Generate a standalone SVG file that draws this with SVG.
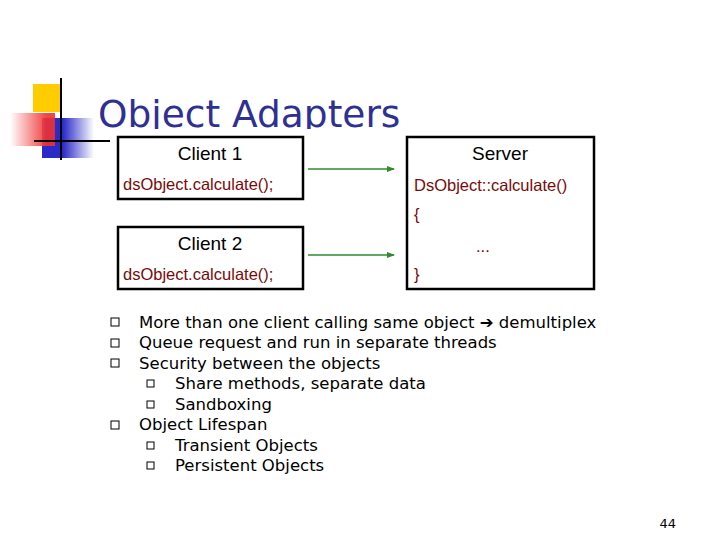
<svg xmlns="http://www.w3.org/2000/svg" width="720" height="540" viewBox="0 0 720 540">
<defs>
<style>
.box{fill:#fff;stroke:#000;stroke-width:2.5}
.hd{font-family:"Liberation Sans",Arial,sans-serif;font-size:19px;fill:#000}
.code{font-family:"Liberation Sans",Arial,sans-serif;font-size:16.5px;fill:#7a0a0a}
.bul{font-family:"DejaVu Sans",Verdana,sans-serif;font-size:16.5px;fill:#000}
.sq{fill:none;stroke:#000;stroke-width:1}
.ar{stroke:#2e8b2e;stroke-width:1.5;fill:none;marker-end:url(#ah)}
</style>
<marker id="ah" markerWidth="8" markerHeight="6" refX="7" refY="3" orient="auto" markerUnits="userSpaceOnUse"><path d="M0,0 L8,3 L0,6 Z" fill="#2e8b2e"/></marker>
<linearGradient id="rg" x1="0" x2="1"><stop offset="0" stop-color="#fff"/><stop offset="0.8" stop-color="#f03030"/></linearGradient>
<linearGradient id="bg" x1="0" x2="1"><stop offset="0.4" stop-color="#2a2ac8"/><stop offset="1" stop-color="#fff"/></linearGradient>
</defs>
<rect width="720" height="540" fill="#fff"/>
<g id="logo">
<rect x="33" y="84" width="28" height="28" fill="#ffcc00"/>
<rect x="42" y="118" width="52" height="40" fill="url(#bg)"/>
<rect x="10" y="113" width="45" height="33" fill="url(#rg)" opacity="0.9"/>
<line x1="61" y1="78" x2="61" y2="160" stroke="#000" stroke-width="2"/>
<line x1="34" y1="141" x2="110" y2="141" stroke="#000" stroke-width="2"/>
</g>
<text x="98" y="127" font-family="'DejaVu Sans',Verdana,sans-serif" font-size="37.5" fill="#2e3192">Object Adapters</text>
<rect x="112" y="129" width="490" height="165" fill="#fff"/>
<g id="connectors">
<line class="ar" x1="308" y1="169" x2="394" y2="169"/>
<line class="ar" x1="308" y1="255" x2="394" y2="255"/>
</g>
<g id="client1">
<rect class="box" x="118" y="137" width="185" height="62"/>
<text class="hd" x="210" y="160" text-anchor="middle">Client 1</text>
<text class="code" x="123" y="190">dsObject.calculate();</text>
</g>
<g id="client2">
<rect class="box" x="118" y="227" width="185" height="62"/>
<text class="hd" x="210" y="250" text-anchor="middle">Client 2</text>
<text class="code" x="123" y="280">dsObject.calculate();</text>
</g>
<g id="server">
<rect class="box" x="407" y="137" width="187" height="152"/>
<text class="hd" x="500" y="160" text-anchor="middle">Server</text>
<text class="code" x="414" y="191">DsObject::calculate()</text>
<text class="code" x="414" y="220">{</text>
<text class="code" x="476" y="252" font-size="11" fill="#555">...</text>
<text class="code" x="414" y="280">}</text>
</g>
<g id="bullets">
<rect class="sq" x="111" y="318" width="8" height="8"/>
<rect class="sq" x="111" y="339" width="8" height="8"/>
<rect class="sq" x="111" y="359" width="8" height="8"/>
<rect class="sq" x="111" y="421" width="8" height="8"/>
<rect class="sq" x="147" y="380" width="7" height="7"/>
<rect class="sq" x="147" y="401" width="7" height="7"/>
<rect class="sq" x="147" y="442" width="7" height="7"/>
<rect class="sq" x="147" y="462" width="7" height="7"/>
<text class="bul" x="139" y="328">More than one client calling same object <tspan font-weight="bold">➔</tspan> demultiplex</text>
<text class="bul" x="139" y="348">Queue request and run in separate threads</text>
<text class="bul" x="139" y="369">Security between the objects</text>
<text class="bul" x="175" y="389">Share methods, separate data</text>
<text class="bul" x="175" y="410">Sandboxing</text>
<text class="bul" x="139" y="430" font-size="18">Object Lifespan</text>
<text class="bul" x="175" y="451">Transient Objects</text>
<text class="bul" x="175" y="471">Persistent Objects</text>
<text x="676" y="528" font-family="'DejaVu Sans',Verdana,sans-serif" font-size="13" text-anchor="end">44</text>
</g>
</svg>
